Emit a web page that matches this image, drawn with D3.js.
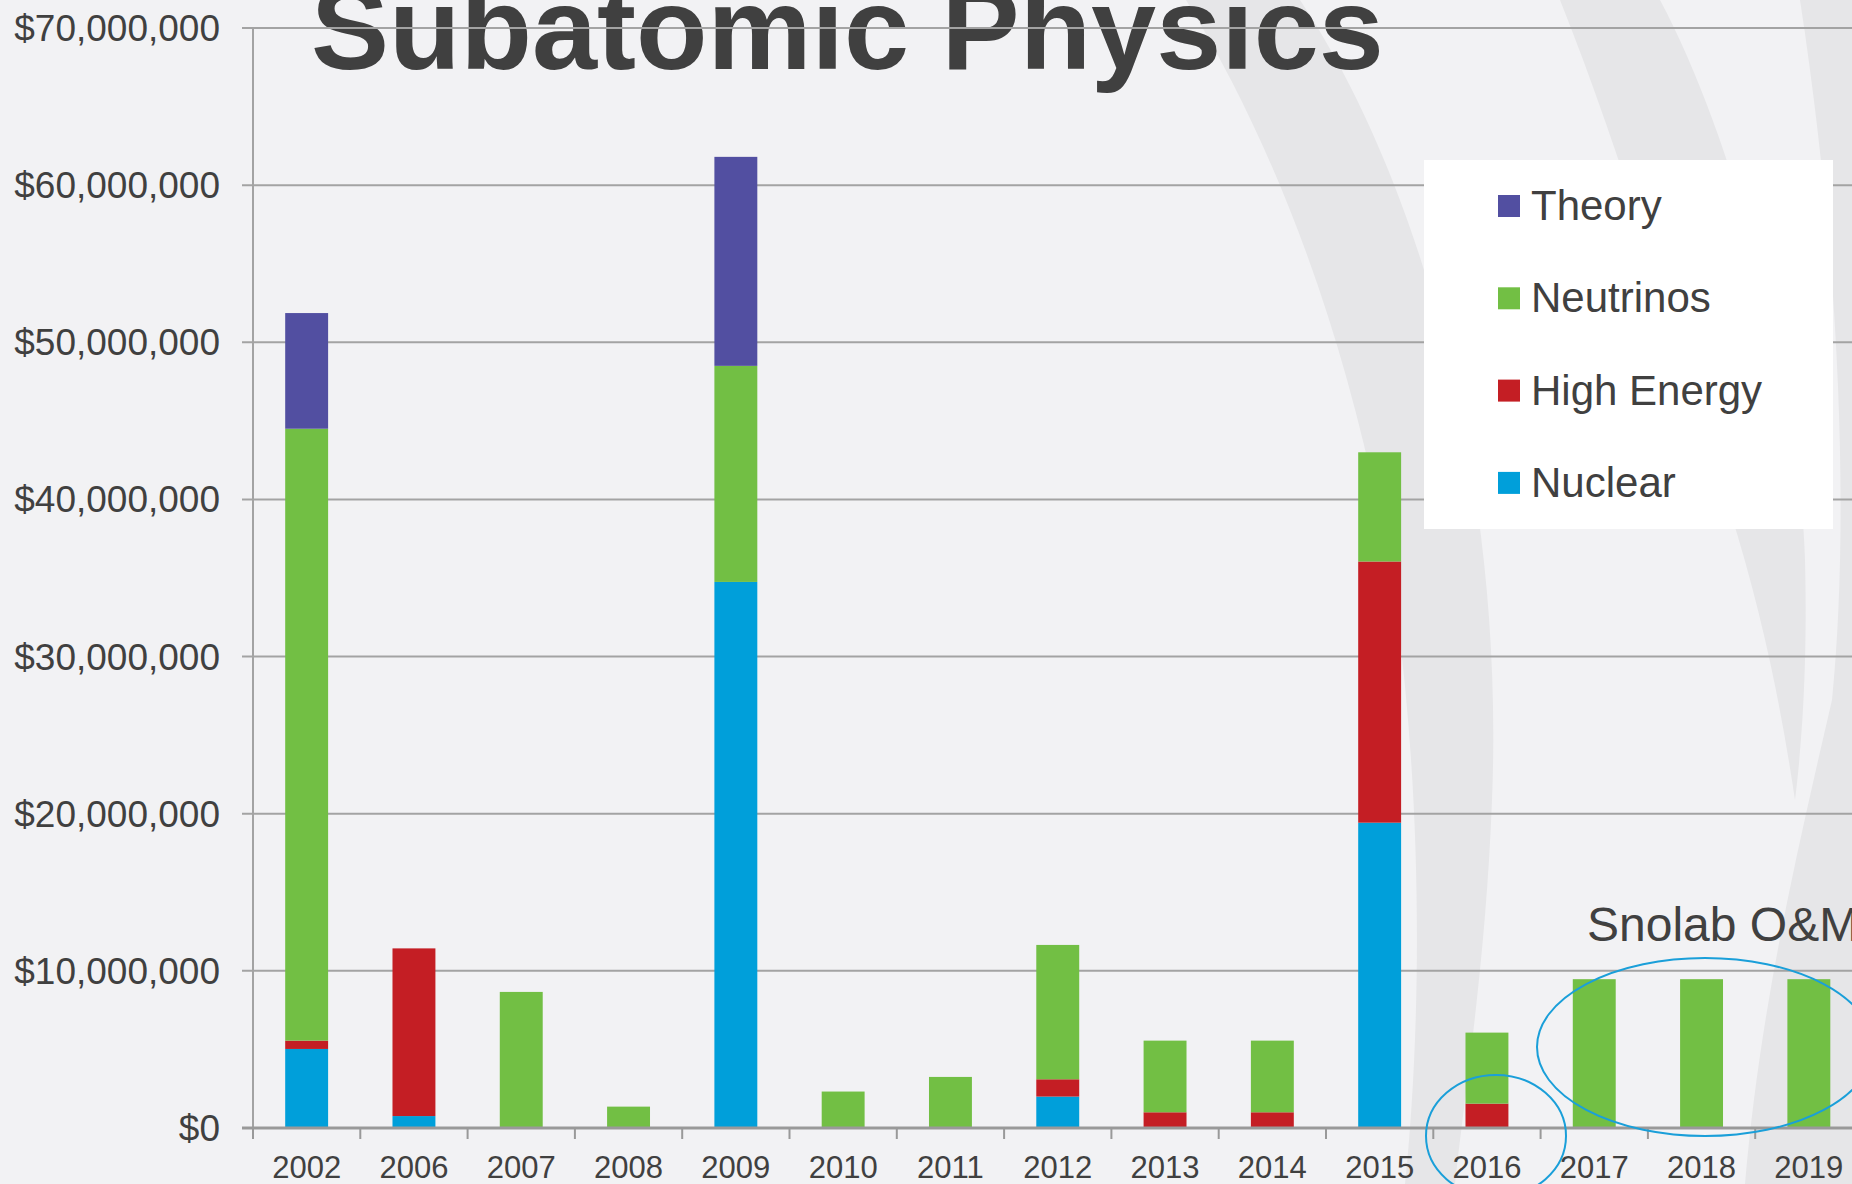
<!DOCTYPE html>
<html>
<head>
<meta charset="utf-8">
<script src="https://cdn.jsdelivr.net/npm/d3@7"></script>
<style>
  html, body { margin: 0; padding: 0; background: #f2f2f4; overflow: hidden; }
  svg { display: block; font-family: "Liberation Sans", Arial, sans-serif; }
</style>
</head>
<body>
<div id="chart"></div>
<script>
// funding per year, in millions of dollars
const years = ['2002', '2006', '2007', '2008', '2009', '2010', '2011', '2012', '2013', '2014', '2015', '2016', '2017', '2018', '2019'];
const nuclear    = [5.03, 0.76, 0, 0, 34.75, 0, 0, 2.0, 0, 0, 19.43, 0, 0, 0, 0];
const highEnergy = [0.53, 10.67, 0, 0, 0, 0, 0, 1.1, 1.0, 1.0, 16.62, 1.55, 0, 0, 0];
const neutrinos  = [38.94, 0, 8.66, 1.36, 13.75, 2.32, 3.25, 8.55, 4.56, 4.56, 6.95, 4.52, 9.47, 9.47, 9.47];
const theory     = [7.36, 0, 0, 0, 13.3, 0, 0, 0, 0, 0, 0, 0, 0, 0, 0];

const seriesNames = ['Nuclear', 'High Energy', 'Neutrinos', 'Theory'];
const seriesColors = ['#009fda', '#c41e24', '#72bf44', '#524fa1'];
const legendOrder = ['Theory', 'Neutrinos', 'High Energy', 'Nuclear'];
const yTicks = [0, 10, 20, 30, 40, 50, 60, 70];

const titleText = 'Subatomic Physics';
const noteText = 'Snolab O&M';

const width = 1852, height = 1184;
const textColor = '#404040';
const gridColor = '#a3a3a3';

const rows = years.map((yr, i) => ({
    year: yr,
    'Nuclear': nuclear[i],
    'High Energy': highEnergy[i],
    'Neutrinos': neutrinos[i],
    'Theory': theory[i]
}));

const svg = d3.select('#chart').append('svg')
    .attr('width', width).attr('height', height);

svg.append('rect').attr('width', width).attr('height', height).attr('fill', '#f2f2f4');

// faint decorative swooshes of the slide background
const bg = svg.append('g').attr('fill', '#e6e6e8');
bg.append('path').attr('d', 'M1186,0 L1300,0 C1420,180 1505,480 1492,800 C1486,960 1465,1090 1455,1184 L1405,1184 C1420,1040 1425,820 1395,600 C1360,380 1290,170 1186,0 Z');
bg.append('path').attr('d', 'M1560,0 L1660,0 C1740,150 1800,400 1805,560 C1808,680 1800,760 1795,800 C1780,700 1760,600 1720,480 C1670,320 1620,150 1560,0 Z');
bg.append('path').attr('d', 'M1800,0 L1852,0 L1852,1184 L1745,1184 C1760,1010 1795,860 1832,700 C1850,520 1840,260 1800,0 Z');

// title sits behind the chart, the top gridline runs across it
svg.append('text')
    .attr('x', 311).attr('y', 69)
    .attr('font-size', 117).attr('font-weight', 'bold')
    .attr('fill', textColor)
    .text(titleText);

const x0 = 253, xEnd = x0 + 107.3 * years.length;
const x = d3.scaleBand().domain(years).range([x0, xEnd]).paddingInner(0.6).paddingOuter(0.3);
const y = d3.scaleLinear().domain([0, 70]).range([1128, 28]);

// gridlines + y axis
const yAxisG = svg.append('g').attr('class', 'axis y');
yAxisG.selectAll('line.grid').data(yTicks).join('line')
    .attr('class', 'grid')
    .attr('x1', x0 - 11).attr('x2', width)
    .attr('y1', d => y(d)).attr('y2', d => y(d))
    .attr('stroke', gridColor).attr('stroke-width', 2);
yAxisG.append('line')
    .attr('x1', x0).attr('x2', x0)
    .attr('y1', y(70)).attr('y2', y(0))
    .attr('stroke', gridColor).attr('stroke-width', 2);
yAxisG.selectAll('text').data(yTicks).join('text')
    .attr('x', 220).attr('y', d => y(d))
    .attr('dy', '0.35em')
    .attr('text-anchor', 'end')
    .attr('font-size', 37)
    .attr('fill', textColor)
    .text(d => d === 0 ? '$0' : '$' + d3.format(',')(d * 1e6));

// stacked bars
const stacked = d3.stack().keys(seriesNames)(rows);
const color = d3.scaleOrdinal().domain(seriesNames).range(seriesColors);

svg.append('g').attr('class', 'bars')
    .selectAll('g').data(stacked).join('g')
    .attr('fill', d => color(d.key))
    .selectAll('rect').data(d => d.filter(s => s[1] - s[0] > 0)).join('rect')
    .attr('x', d => x(d.data.year))
    .attr('y', d => y(d[1]))
    .attr('width', x.bandwidth())
    .attr('height', d => y(d[0]) - y(d[1]));

// x axis
const xAxisG = svg.append('g').attr('class', 'axis x');
const half = (x.step() - x.bandwidth()) / 2;
xAxisG.append('line')
    .attr('x1', x0 - 11).attr('x2', width)
    .attr('y1', y(0)).attr('y2', y(0))
    .attr('stroke', '#999').attr('stroke-width', 3);
xAxisG.selectAll('line.tick').data(years).join('line')
    .attr('class', 'tick')
    .attr('x1', d => x(d) - half).attr('x2', d => x(d) - half)
    .attr('y1', y(0)).attr('y2', y(0) + 11)
    .attr('stroke', '#999').attr('stroke-width', 2);
xAxisG.selectAll('text').data(years).join('text')
    .attr('x', d => x(d) + x.bandwidth() / 2)
    .attr('y', 1178)
    .attr('text-anchor', 'middle')
    .attr('font-size', 31)
    .attr('fill', textColor)
    .text(d => d);

// legend
const legendG = svg.append('g').attr('class', 'legend');
legendG.append('rect')
    .attr('x', 1424).attr('y', 160).attr('width', 409).attr('height', 369)
    .attr('fill', '#ffffff');
const item = legendG.selectAll('g.item').data(legendOrder).join('g')
    .attr('class', 'item')
    .attr('transform', (d, i) => `translate(1498,${195 + i * 92.3})`);
item.append('rect').attr('width', 22).attr('height', 22).attr('fill', d => color(d));
item.append('text')
    .attr('x', 33).attr('y', 25)
    .attr('font-size', 42)
    .attr('fill', textColor)
    .text(d => d);

// Snolab annotation
svg.append('text')
    .attr('x', 1587).attr('y', 941)
    .attr('font-size', 48)
    .attr('fill', textColor)
    .text(noteText);

const rings = svg.append('g').attr('fill', 'none').attr('stroke', '#1a9fd9').attr('stroke-width', 2);
rings.append('ellipse').attr('cx', 1705).attr('cy', 1047).attr('rx', 168).attr('ry', 89);
rings.append('ellipse').attr('cx', 1496).attr('cy', 1136).attr('rx', 70).attr('ry', 61);
</script>
</body>
</html>
